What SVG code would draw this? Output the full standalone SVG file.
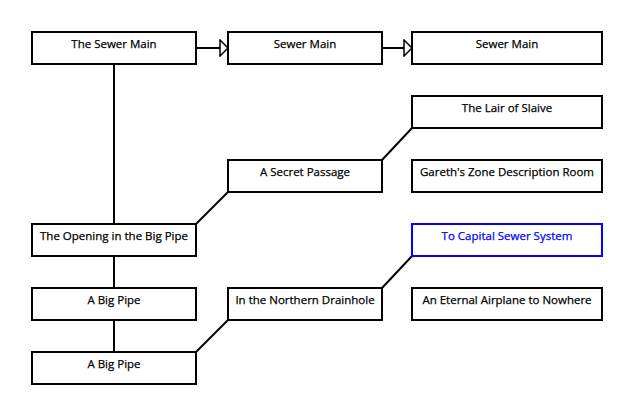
<svg xmlns="http://www.w3.org/2000/svg" width="633" height="416" viewBox="0 0 633 416">
<style>
.n rect{fill:#fff;stroke:#000;stroke-width:2}
.n text{font-family:"Open Sans","Noto Sans","DejaVu Sans",sans-serif;font-size:11.5px;text-anchor:middle;fill:#000;stroke:#000;stroke-width:0.25}
.n.blue rect{stroke:#0000ff}
.n.blue text{fill:#0000ff;stroke:#0000ff}
.c line{stroke:#000;stroke-width:2;fill:none}
</style>
<defs>
<marker id="tri" markerWidth="10" markerHeight="18" refX="9" refY="9" orient="auto" markerUnits="userSpaceOnUse">
<path d="M1,1 L9,9 L1,17 Z" fill="#fff" stroke="#000" stroke-width="1.5"/>
</marker>
</defs>
<rect width="633" height="416" fill="#fff"/>
<g id="connectors" class="c">
<line x1="196" y1="48" x2="228" y2="48" marker-end="url(#tri)"/>
<line x1="382" y1="48" x2="412" y2="48" marker-end="url(#tri)"/>
<line x1="114" y1="64" x2="114" y2="224"/>
<line x1="114" y1="256" x2="114" y2="288"/>
<line x1="114" y1="320" x2="114" y2="352"/>
<line x1="196" y1="224" x2="228" y2="192"/>
<line x1="382" y1="160" x2="412" y2="128"/>
<line x1="196" y1="352" x2="228" y2="320"/>
<line x1="382" y1="288" x2="412" y2="256"/>
</g>
<g id="the-sewer-main" class="n"><rect x="32" y="32" width="164" height="32"/><text x="114" y="48">The Sewer Main</text></g>
<g id="sewer-main-2" class="n"><rect x="228" y="32" width="154" height="32"/><text x="305" y="48">Sewer Main</text></g>
<g id="sewer-main-3" class="n"><rect x="412" y="32" width="190" height="32"/><text x="507" y="48">Sewer Main</text></g>
<g id="lair-of-slaive" class="n"><rect x="412" y="96" width="190" height="32"/><text x="507" y="112">The Lair of Slaive</text></g>
<g id="secret-passage" class="n"><rect x="228" y="160" width="154" height="32"/><text x="305" y="176">A Secret Passage</text></g>
<g id="gareths-room" class="n"><rect x="412" y="160" width="190" height="32"/><text x="507" y="176">Gareth's Zone Description Room</text></g>
<g id="opening" class="n"><rect x="32" y="224" width="164" height="32"/><text x="114" y="240">The Opening in the Big Pipe</text></g>
<g id="capital-sewer" class="n blue"><rect x="412" y="224" width="190" height="32"/><text x="507" y="240">To Capital Sewer System</text></g>
<g id="big-pipe-1" class="n"><rect x="32" y="288" width="164" height="32"/><text x="114" y="304">A Big Pipe</text></g>
<g id="northern-drainhole" class="n"><rect x="228" y="288" width="154" height="32"/><text x="305" y="304">In the Northern Drainhole</text></g>
<g id="eternal-airplane" class="n"><rect x="412" y="288" width="190" height="32"/><text x="507" y="304">An Eternal Airplane to Nowhere</text></g>
<g id="big-pipe-2" class="n"><rect x="32" y="352" width="164" height="32"/><text x="114" y="368">A Big Pipe</text></g>
</svg>
